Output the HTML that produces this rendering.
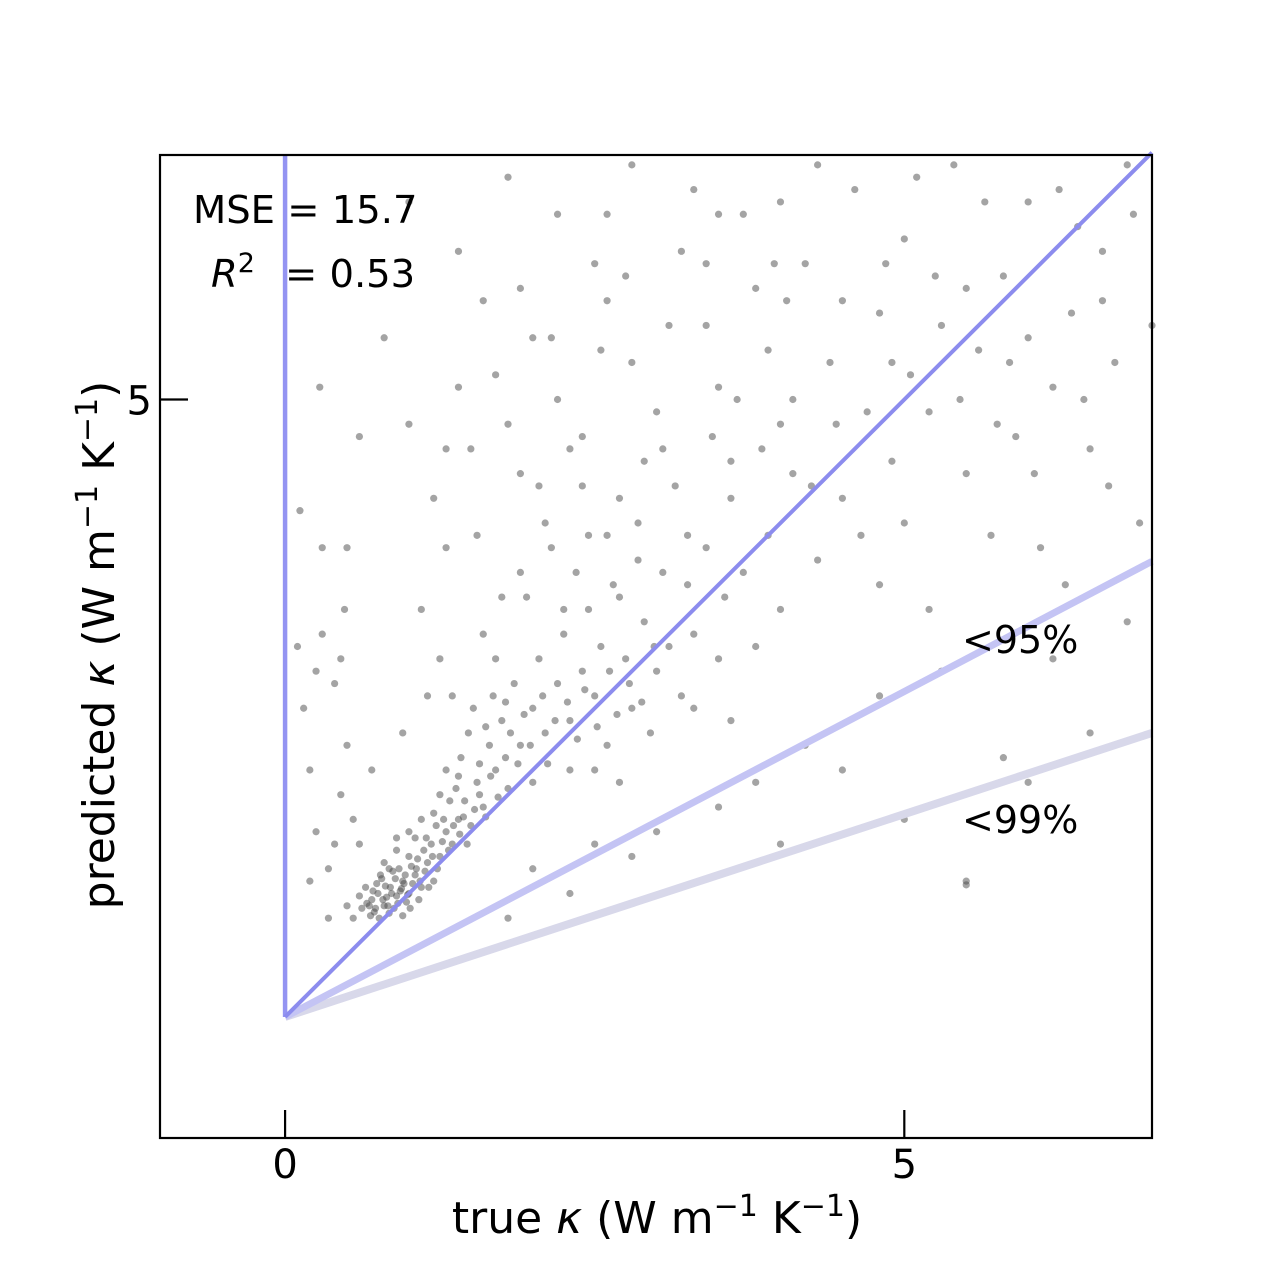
<!DOCTYPE html>
<html><head><meta charset="utf-8"><style>
html,body{margin:0;padding:0;background:#fff;}
svg{display:block;font-family:"DejaVu Sans","Liberation Sans",sans-serif;}
</style></head><body>
<svg id="chart" width="1280" height="1280" viewBox="0 0 1280 1280">
<rect width="1280" height="1280" fill="#fff"/>
<g id="marks"></g>
<rect x="160" y="155" width="992" height="983" fill="none" stroke="#000" stroke-width="2.2"/>
<g id="axes"></g>
<text x="193" y="223" font-size="38.5">MSE = 15.7</text>
<text x="211" y="287" font-size="38.5"><tspan font-style="italic">R</tspan><tspan font-size="27" dy="-15">2</tspan><tspan dy="15" dx="30">= 0.53</tspan></text>
<text x="962" y="653" font-size="38">&lt;95%</text>
<text x="962" y="833" font-size="38">&lt;99%</text>
<text x="657" y="1233" font-size="44" text-anchor="middle">true <tspan font-style="italic">κ</tspan> (W m<tspan font-size="30" dy="-17">−1</tspan><tspan dy="17"> K</tspan><tspan font-size="30" dy="-17">−1</tspan><tspan dy="17">)</tspan></text>
<text transform="translate(114,645) rotate(-90)" font-size="44" text-anchor="middle">predicted <tspan font-style="italic">κ</tspan> (W m<tspan font-size="30" dy="-17">−1</tspan><tspan dy="17"> K</tspan><tspan font-size="30" dy="-17">−1</tspan><tspan dy="17">)</tspan></text>
</svg>
<script>
const xTicks = [0, 5];
const yTicks = [5];
const ratio95 = [3.69 / 7];
const ratio99 = [2.3 / 7];
const trueK = [0.7,0.75,0.8,0.85,0.9,0.95,1.0,1.05,0.72,0.78,0.88,0.92,0.98,1.1,1.15,1.2,0.65,0.68,0.82,0.87,0.93,1.0,1.08,1.12,0.76,0.84,0.96,1.02,1.18,1.25,0.6,0.74,0.8,0.9,1.05,1.3,1.22,1.35,0.55,0.95,1.4,1.45,1.5,1.38,1.55,1.6,1.42,1.48,1.3,1.25,1.2,1.1,1.0,0.9,1.52,1.65,1.7,1.75,1.8,1.35,
1.85,1.9,2.0,2.05,2.1,2.2,2.25,2.3,2.4,2.45,2.5,2.55,2.6,2.7,2.75,2.8,2.9,3.0,3.05,3.1,3.2,3.25,3.3,3.4,3.5,3.55,3.6,3.7,3.8,3.9,4.0,4.1,1.95,2.15,2.35,2.6,2.85,3.15,2.0,2.3,2.5,2.7,2.95,3.3,3.6,1.7,1.6,1.9,2.1,2.4,
1.2,1.3,1.1,1.5,1.7,1.8,2.0,2.2,2.4,2.6,2.8,3.0,3.2,3.4,3.5,3.7,3.8,4.0,4.2,4.4,4.6,4.8,5.0,5.2,5.4,5.6,5.8,6.0,6.2,6.4,6.6,6.8,1.0,1.4,1.8,2.2,2.8,3.3,4.3,5.1,0.8,1.0,1.6,2.5,3.6,4.5,4.7,5.3,5.5,5.9,6.1,6.5,6.9,6.7,6.3,5.7,5.0,4.3,4.8,5.2,4.9,5.5,6.0,6.6,7.0,3.9,4.1,4.5,2.9,3.1,2.3,2.7,1.9,1.4,1.9,2.6,3.4,4.0,
0.1,0.15,0.2,0.25,0.3,0.35,0.4,0.45,0.12,0.3,0.5,0.55,0.35,0.5,0.25,0.4,0.2,0.48,0.6,0.28,
2.0,2.5,3.0,3.5,4.0,4.5,5.0,5.5,6.0,6.5,5.8,4.8,5.3,6.2,6.8,4.2,3.8,2.8,1.8,2.3,
0.66,0.71,0.73,0.79,0.81,0.83,0.86,0.89,0.91,0.94,0.97,0.99,1.03,1.06,1.09,1.13,1.16,1.19,1.23,1.27,1.32,1.36,1.41,1.44,1.47,1.53,1.57,1.62,1.66,1.72,1.78,1.82,1.88,1.93,1.98,2.08,2.12,2.18,2.28,2.36,2.42,2.52,2.62,2.68,2.78,2.88,2.98,0.62,0.69,0.77,0.84,1.01,1.07,1.14,1.28,1.33,1.4,1.57,1.62,1.68,1.78,
1.3,1.55,1.75,2.05,2.25,2.45,2.65,2.85,3.05,3.25,3.45,3.65,3.85,4.05,4.25,4.45,4.65,4.85,5.05,5.25,5.45,5.65,5.85,6.05,6.25,6.45,6.65,6.85,2.15,2.55,2.75,3.5,3.95,4.9,5.75,6.35,1.15,1.25,0.95,0.7,0.6,0.5,0.45,5.5];
const predK = [0.95,1.0,0.9,1.05,0.98,1.1,1.0,1.15,0.85,1.12,0.88,1.2,0.93,1.05,1.25,1.1,1.05,0.9,0.97,1.18,1.02,1.3,0.95,1.35,0.8,0.84,1.08,1.22,1.4,1.3,0.98,1.08,1.25,1.35,1.45,1.5,1.55,1.4,0.8,0.82,1.6,1.75,1.55,1.85,1.9,1.7,2.1,2.3,2.0,1.8,1.65,1.6,1.5,1.45,2.5,2.2,2.0,2.4,1.85,2.6,
2.7,2.2,2.5,2.9,2.3,2.7,3.1,2.4,2.8,3.3,2.6,3.0,2.2,3.4,2.9,2.5,3.2,2.8,3.6,3.0,2.6,3.5,3.1,3.8,2.9,3.4,4.2,3.6,3.0,3.9,3.3,4.4,3.4,3.8,3.6,3.9,4.0,4.3,1.9,2.0,2.0,1.9,2.3,2.5,2.4,2.9,3.1,3.6,4.0,4.3,
4.2,3.8,3.3,4.6,5.2,4.8,5.5,5.0,4.7,5.8,5.3,4.9,6.2,5.6,5.1,6.5,5.9,4.8,6.1,5.3,6.7,5.7,6.3,4.9,6.9,5.4,6.0,6.6,5.1,6.4,5.8,6.9,6.6,6.2,6.8,6.5,6.9,6.7,6.9,6.8,5.5,4.8,5.8,6.1,4.5,4.2,4.9,5.6,4.4,4.7,3.8,4.6,4.0,5.3,3.5,3.9,4.0,3.7,3.5,3.3,4.5,5.9,5.5,6.2,5.6,5.4,5.0,5.8,4.5,5.6,4.6,4.2,4.4,5.1,5.9,6.5,6.1,6.6,
3.0,2.5,2.0,1.5,3.1,1.2,2.7,1.8,4.1,3.8,2.2,1.6,0.8,0.9,2.8,1.4,1.1,3.3,4.7,5.1,
1.2,1.4,1.5,1.7,1.4,2.0,1.6,1.1,1.9,2.3,2.1,2.6,2.8,2.9,3.2,2.2,1.9,1.3,0.8,1.0,
0.92,1.02,0.88,0.95,1.06,0.9,1.0,1.12,0.92,1.04,1.15,0.99,1.08,1.2,1.1,1.18,1.05,1.3,1.2,1.42,1.35,1.55,1.48,1.62,1.4,1.68,1.8,1.62,1.95,1.78,2.1,2.3,2.05,2.45,2.2,2.6,2.05,2.4,2.55,2.25,2.65,2.35,2.8,2.45,2.7,2.55,3.0,0.88,0.82,1.15,1.2,0.88,1.28,1.45,1.6,1.75,1.95,2.05,2.35,2.6,2.55,
4.6,3.9,3.4,4.3,3.3,3.9,3.5,3.7,4.6,3.9,4.7,5.0,4.6,5.8,4.3,4.8,3.9,6.1,5.2,6.0,5.0,6.6,5.3,4.4,6.7,5.0,4.3,6.5,5.5,5.4,6.0,6.5,6.1,5.3,4.8,5.7,2.6,2.9,2.3,2.0,1.4,3.8,2.9,1.07];

const X0 = 160, X1 = 1152, Y0 = 1138, Y1 = 155;
const XMIN = -1.01, XMAX = 7.0, YMIN = -0.98, YMAX = 6.98;
const xs = v => X0 + (v - XMIN) / (XMAX - XMIN) * (X1 - X0);
const ys = v => Y0 - (v - YMIN) / (YMAX - YMIN) * (Y0 - Y1);
const NS = "http://www.w3.org/2000/svg";
const marks = document.getElementById('marks');
const axes = document.getElementById('axes');
function mk(tag, attrs, parent) {
  const e = document.createElementNS(NS, tag);
  for (const k in attrs) e.setAttribute(k, attrs[k]);
  parent.appendChild(e);
  return e;
}
for (let i = 0; i < trueK.length; i++) {
  const c = mk('circle', {cx: xs(trueK[i]), cy: ys(predK[i]), r: 3.6, fill: '#4a4a4a', 'fill-opacity': 0.5}, marks);
  
  
}
const l99 = mk('line', {x1: xs(0), y1: ys(0), x2: xs(XMAX), y2: ys(XMAX * ratio99[0]), stroke: '#d8d8ea', 'stroke-width': 8}, marks);


const l95 = mk('line', {x1: xs(0), y1: ys(0), x2: xs(XMAX), y2: ys(XMAX * ratio95[0]), stroke: '#c4c4f4', 'stroke-width': 7}, marks);


const lv = mk('line', {x1: xs(0), y1: ys(0), x2: xs(0), y2: Y1, stroke: '#9494f2', 'stroke-width': 4.5}, marks);


const ld = mk('line', {x1: xs(0), y1: ys(0), x2: xs(XMAX), y2: ys(XMAX), stroke: '#8c8cee', 'stroke-width': 4}, marks);


xTicks.forEach(t => {
  const l = mk('line', {x1: xs(t), y1: Y0, x2: xs(t), y2: Y0 - 28, stroke: '#000', 'stroke-width': 2.2}, axes);
  
  
  const tx = mk('text', {x: xs(t), y: 1178, 'font-size': 40, 'text-anchor': 'middle'}, axes);
  tx.textContent = t;
  
  
});
yTicks.forEach(t => {
  const l = mk('line', {x1: X0, y1: ys(t), x2: X0 + 28, y2: ys(t), stroke: '#000', 'stroke-width': 2.2}, axes);
  
  
  const tx = mk('text', {x: 152, y: ys(t) + 15, 'font-size': 40, 'text-anchor': 'end'}, axes);
  tx.textContent = t;
  
  
});
</script>
</body></html>
